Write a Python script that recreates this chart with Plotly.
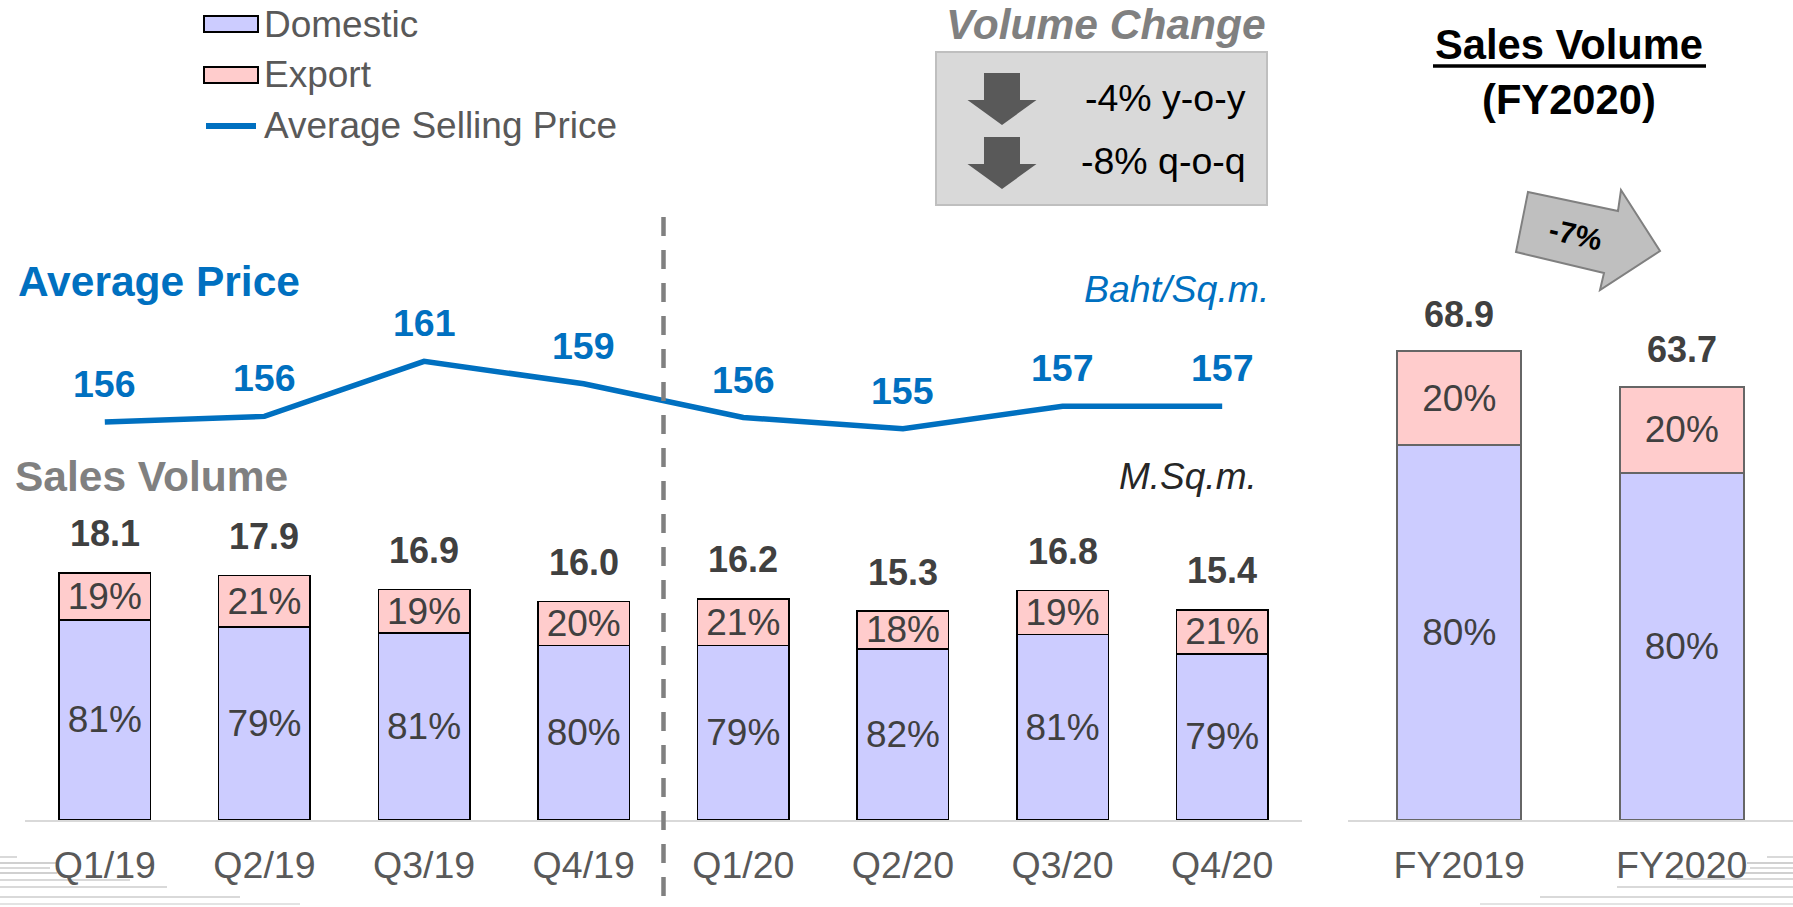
import plotly.graph_objects as go

# ---------------- data ----------------
quarters = ["Q1/19", "Q2/19", "Q3/19", "Q4/19", "Q1/20", "Q2/20", "Q3/20", "Q4/20"]
q_total = [18.1, 17.9, 16.9, 16.0, 16.2, 15.3, 16.8, 15.4]
q_dom_pct = [81, 79, 81, 80, 79, 82, 81, 79]
q_exp_pct = [19, 21, 19, 20, 21, 18, 19, 21]
price = [155.6, 156.1, 161.0, 159.0, 156.0, 155.0, 157.0, 157.0]

years = ["FY2019", "FY2020"]
fy_total = [68.9, 63.7]
fy_dom_pct = [80, 80]
fy_exp_pct = [20, 20]

yoy_text = "-4% y-o-y"
qoq_text = "-8% q-o-q"
fy_change_text = "-7%"

# ---------------- geometry helpers ----------------
W, H = 1793, 907
FONT = "Liberation Sans, Arial, sans-serif"
DOM_C, EXP_C = "#CCCCFF", "#FFCCCC"
BLUE = "#0070C0"
GRAY_TXT = "#595959"
DARK = "#404040"


def px(x):
    return x / W


def py(y):
    return 1 - y / H


def path(points):
    return "M " + " L ".join(f"{px(a):.5f},{py(b):.5f}" for a, b in points) + " Z"


base_px = 820
top_px = 200
bar_dom = [py(base_px), py(top_px)]
q_scale = 13.65  # px per unit
fy_scale = 6.805
q_range = (base_px - top_px) / q_scale
fy_range = (base_px - top_px) / fy_scale

p_scale = 11.24
p_ref_val, p_ref_px = 161.0, 361.3
p_lo, p_hi = 148.0, 166.0
p_top_px = p_ref_px - (p_hi - p_ref_val) * p_scale
p_bot_px = p_ref_px + (p_ref_val - p_lo) * p_scale

q_dom_vals = [t * d / 100 for t, d in zip(q_total, q_dom_pct)]
q_exp_vals = [t * e / 100 for t, e in zip(q_total, q_exp_pct)]
fy_dom_vals = [t * d / 100 for t, d in zip(fy_total, fy_dom_pct)]
fy_exp_vals = [t * e / 100 for t, e in zip(fy_total, fy_exp_pct)]

fig = go.Figure()

pct_font = dict(family=FONT, size=37, color=DARK)

fig.add_trace(go.Bar(
    x=quarters, y=q_dom_vals, name="Domestic", width=0.573,
    marker=dict(color=DOM_C, line=dict(color="#000000", width=1.5)),
    text=[f"{v}%" for v in q_dom_pct], textposition="inside",
    insidetextanchor="middle", textfont=pct_font, constraintext="none",
    xaxis="x", yaxis="y", showlegend=False, hoverinfo="skip"))
fig.add_trace(go.Bar(
    x=quarters, y=q_exp_vals, name="Export", width=0.573,
    marker=dict(color=EXP_C, line=dict(color="#000000", width=1.5)),
    text=[f"{v}%" for v in q_exp_pct], textposition="inside",
    insidetextanchor="middle", textfont=pct_font, constraintext="none",
    xaxis="x", yaxis="y", showlegend=False, hoverinfo="skip"))

fig.add_trace(go.Bar(
    x=years, y=fy_dom_vals, name="Domestic FY", width=0.556,
    marker=dict(color=DOM_C, line=dict(color="#666666", width=2)),
    text=[f"{v}%" for v in fy_dom_pct], textposition="inside",
    insidetextanchor="middle", textfont=pct_font, constraintext="none",
    xaxis="x2", yaxis="y3", showlegend=False, hoverinfo="skip"))
fig.add_trace(go.Bar(
    x=years, y=fy_exp_vals, name="Export FY", width=0.556,
    marker=dict(color=EXP_C, line=dict(color="#666666", width=2)),
    text=[f"{v}%" for v in fy_exp_pct], textposition="inside",
    insidetextanchor="middle", textfont=pct_font, constraintext="none",
    xaxis="x2", yaxis="y3", showlegend=False, hoverinfo="skip"))

fig.add_trace(go.Scatter(
    x=quarters, y=price, mode="lines", name="Average Selling Price",
    line=dict(color=BLUE, width=5.5), xaxis="x", yaxis="y2",
    showlegend=False, hoverinfo="skip"))

annotations = []
for q, t in zip(quarters, q_total):
    annotations.append(dict(x=q, y=t, xref="x", yref="y", text=f"<b>{t:.1f}</b>",
                            showarrow=False, yshift=39, yanchor="middle",
                            font=dict(family=FONT, size=36, color=DARK)))
for yr, t in zip(years, fy_total):
    annotations.append(dict(x=yr, y=t, xref="x2", yref="y3", text=f"<b>{t:.1f}</b>",
                            showarrow=False, yshift=37, yanchor="middle",
                            font=dict(family=FONT, size=36, color=DARK)))
for q, p in zip(quarters, price):
    annotations.append(dict(x=q, y=p, xref="x", yref="y2", text=f"<b>{round(p)}</b>",
                            showarrow=False, yshift=38, yanchor="middle",
                            font=dict(family=FONT, size=37.5, color=BLUE)))


def ann(x, y, text, size, color, xanchor="center", angle=0):
    annotations.append(dict(x=px(x), y=py(y), xref="paper", yref="paper", text=text,
                            showarrow=False, xanchor=xanchor, yanchor="middle",
                            textangle=angle,
                            font=dict(family=FONT, size=size, color=color)))


# legend
ann(262, 24, "Domestic", 37, GRAY_TXT, "left")
ann(262, 75, "Export", 37, GRAY_TXT, "left")
ann(262, 126, "Average Selling Price", 37, GRAY_TXT, "left")
# section titles
ann(16, 281, "<b>Average Price</b>", 42.5, BLUE, "left")
ann(13, 476, "<b>Sales Volume</b>", 42.5, "#808080", "left")
ann(1272, 289, "<i>Baht/Sq.m.</i>", 37.5, BLUE, "right")
ann(1259, 476, "<i>M.Sq.m.</i>", 37, "#262626", "right")
# volume change box
ann(1106, 25, "<b><i>Volume Change</i></b>", 42.5, "#808080")
ann(1248, 98, yoy_text, 37.5, "#000000", "right")
ann(1248, 161, qoq_text, 37.5, "#000000", "right")
# FY title
ann(1569, 44, "<b>Sales Volume</b>", 41.7, "#000000")
ann(1569, 100, "<b>(FY2020)</b>", 41.7, "#000000")
ann(1575, 234, f"<b>{fy_change_text}</b>", 30, "#000000", angle=13)

shapes = []
# decorative corner lines (drawn first, behind everything)
for y, x1, c in [(857, 17, "#D9D9D9"), (863, 57, "#D0D0D0"), (868, 50, "#D9D9D9"),
                 (873, 57, "#D0D0D0"), (880, 130, "#D9D9D9"), (887, 167, "#D9D9D9"),
                 (897, 240, "#D9D9D9"), (904, 300, "#E3E3E3")]:
    shapes.append(dict(type="line", xref="paper", yref="paper", x0=0, x1=px(x1),
                       y0=py(y), y1=py(y), line=dict(color=c, width=2), layer="below"))
for y, x0, c in [(857, 1767, "#D9D9D9"), (863, 1747, "#D0D0D0"), (868, 1750, "#D9D9D9"),
                 (873, 1740, "#D0D0D0"), (879, 1677, "#D9D9D9"), (887, 1617, "#D9D9D9"),
                 (897, 1540, "#D9D9D9"), (904, 1480, "#E3E3E3")]:
    shapes.append(dict(type="line", xref="paper", yref="paper", x0=px(x0), x1=1,
                       y0=py(y), y1=py(y), line=dict(color=c, width=2), layer="below"))
# legend swatches
shapes.append(dict(type="rect", xref="paper", yref="paper", x0=px(204), x1=px(258),
                   y0=py(32), y1=py(16), fillcolor=DOM_C, line=dict(color="#000000", width=2)))
shapes.append(dict(type="rect", xref="paper", yref="paper", x0=px(204), x1=px(258),
                   y0=py(83), y1=py(67), fillcolor=EXP_C, line=dict(color="#000000", width=2)))
shapes.append(dict(type="line", xref="paper", yref="paper", x0=px(206), x1=px(256),
                   y0=py(126), y1=py(126), line=dict(color=BLUE, width=6)))
# volume change box
shapes.append(dict(type="rect", xref="paper", yref="paper", x0=px(936), x1=px(1267),
                   y0=py(205), y1=py(52), fillcolor="#D9D9D9", line=dict(color="#BFBFBF", width=2)))
for top in (73, 137):
    pts = [(984, top), (1020, top), (1020, top + 27), (1036.5, top + 27), (1002, top + 52),
           (967.5, top + 27), (984, top + 27)]
    shapes.append(dict(type="path", xref="paper", yref="paper", path=path(pts),
                       fillcolor="#595959", line=dict(width=0)))
# FY underline
shapes.append(dict(type="line", xref="paper", yref="paper", x0=px(1433), x1=px(1706),
                   y0=py(66), y1=py(66), line=dict(color="#000000", width=3.5)))
# rotated change arrow
arrow_pts = [(1528, 192), (1618, 211), (1621, 190), (1660, 251), (1600, 290), (1604, 273), (1516, 252)]
shapes.append(dict(type="path", xref="paper", yref="paper", path=path(arrow_pts),
                   fillcolor="#BFBFBF", line=dict(color="#808080", width=2), layer="below"))
# dashed separator
shapes.append(dict(type="line", xref="x", yref="paper", x0=3.5, x1=3.5, y0=py(217), y1=0,
                   line=dict(color="#808080", width=4.5, dash="19px,14px")))

tickfont = dict(family=FONT, size=37.5, color=GRAY_TXT)

fig.update_layout(
    width=W, height=H, margin=dict(l=0, r=0, t=0, b=0),
    paper_bgcolor="white", plot_bgcolor="rgba(0,0,0,0)",
    barmode="stack", showlegend=False,
    font=dict(family=FONT),
    xaxis=dict(domain=[px(25), px(1302)], type="category", categoryorder="array",
               categoryarray=quarters, range=[-0.5, 7.5], anchor="y",
               showline=True, linecolor="#D9D9D9", linewidth=2, showgrid=False,
               zeroline=False, ticks="", tickfont=tickfont, ticklabelstandoff=11,
               fixedrange=True),
    yaxis=dict(domain=bar_dom, range=[0, q_range], visible=False, anchor="x", fixedrange=True),
    yaxis2=dict(domain=[py(p_bot_px), py(p_top_px)], range=[p_lo, p_hi], visible=False,
                anchor="x", fixedrange=True),
    xaxis2=dict(domain=[px(1348), 1.0], type="category", categoryorder="array",
                categoryarray=years, range=[-0.5, 1.5], anchor="y3",
                showline=True, linecolor="#D9D9D9", linewidth=2, showgrid=False,
                zeroline=False, ticks="", tickfont=tickfont, ticklabelstandoff=11,
                fixedrange=True),
    yaxis3=dict(domain=bar_dom, range=[0, fy_range], visible=False, anchor="x2", fixedrange=True),
    annotations=annotations,
    shapes=shapes,
)

fig.write_html("out.html", config={"displayModeBar": False},
               post_script="document.body.style.margin='0';document.body.style.overflow='hidden';")
